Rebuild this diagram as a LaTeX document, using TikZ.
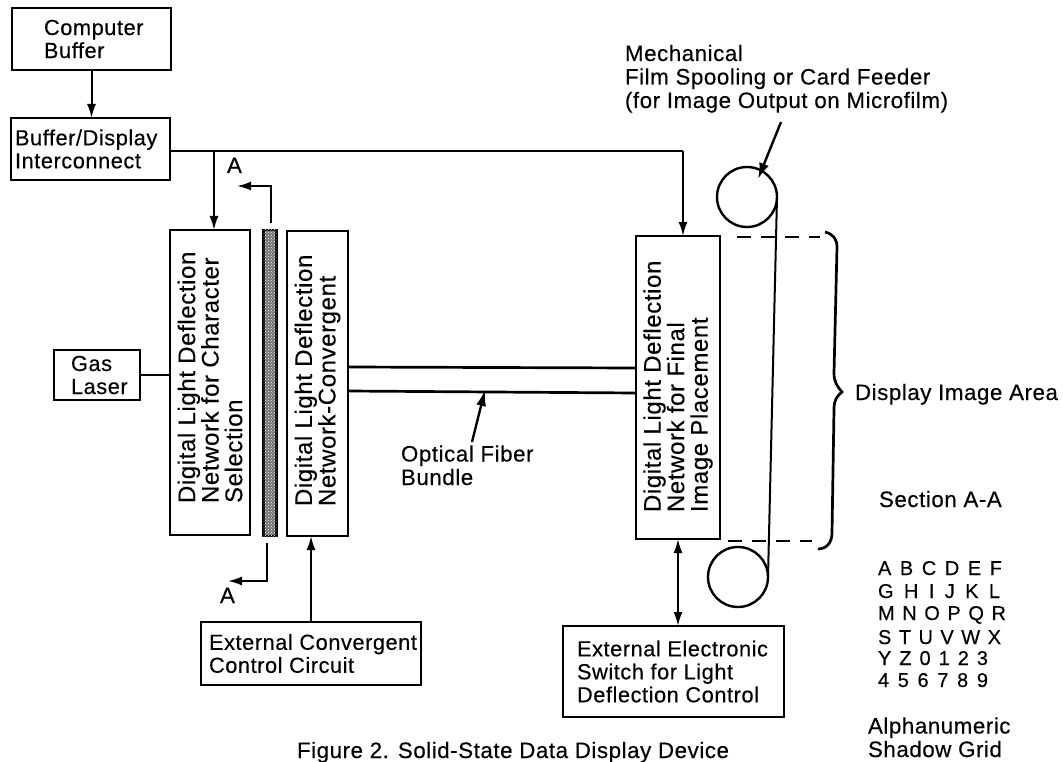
\documentclass[tikz,border=0pt]{standalone}
\usepackage{fontspec}
\setmainfont[LetterSpace=2.5,FakeBold=0.3]{Liberation Sans}
\usetikzlibrary{arrows.meta,patterns}
\newcommand{\tbox}[7]{%
  \pgfmathsetmacro{\tw}{#4-#2-2*#6}%
  \pgfmathsetmacro{\th}{#5-#3}%
  \node[boxn,anchor=north west,inner xsep=#6pt,text width=\tw pt,minimum height=\th pt] (#1) at (#2,#3) {#7};}
\newcommand{\rbox}[7]{%
  \pgfmathsetmacro{\tw}{#5-#3-2*#6}%
  \pgfmathsetmacro{\th}{#4-#2}%
  \pgfmathsetmacro{\cx}{(#2+#4)/2}%
  \pgfmathsetmacro{\cy}{(#3+#5)/2}%
  \node[boxn,rotate=90,anchor=center,inner xsep=#6pt,text width=\tw pt,minimum height=\th pt,font=\fontsize{24}{23.5}\selectfont] (#1) at (\cx,\cy) {#7};}
\tikzset{
  boxn/.style={draw,line width=2.7pt,inner ysep=0pt,outer sep=0pt,align=flush left,font=\fontsize{21.8}{23}\selectfont},
  lab/.style={anchor=base west,inner sep=0pt,outer sep=0pt,align=left,font=\fontsize{22.3}{23.5}\selectfont},
  conn/.style={line width=2pt},
  arr/.style={conn,-{Latex[length=14pt,width=9pt]}},
  darr/.style={conn,{Latex[length=14pt,width=9pt]}-{Latex[length=14pt,width=9pt]}},
  heavy/.style={line width=2.7pt},
  spool/.style={draw,circle,line width=2.4pt,minimum size=60pt,inner sep=0pt,outer sep=0pt},
}
\newcommand{\gridrow}[4]{\node[lab,font=\fontsize{20}{22}\selectfont] (#1) at (878,#2) {\makebox[#3pt][s]{#4}};}
\begin{document}
\begin{tikzpicture}[x=1pt,y=-1pt]
\useasboundingbox (0,0) rectangle (1063,762);
\tbox{cb}{12}{8}{171}{70}{32}{\mbox{Computer}\\\mbox{Buffer}}
\tbox{bd}{11}{118}{170}{180}{4}{\mbox{Buffer/Display}\\\mbox{Interconnect}}
\tbox{gl}{54}{350}{140}{400}{17}{\mbox{Gas}\\\mbox{Laser}}
\rbox{cs}{170}{230}{250}{535}{32}{\mbox{Digital Light Deflection}\\\mbox{Network for Character}\\\mbox{Selection}}
\node[draw,line width=2.2pt,fill=black!55,postaction={pattern=crosshatch dots,pattern color=white},minimum width=13pt,minimum height=306pt,inner sep=0pt,outer sep=0pt] (gr) at (270,383) {};
\rbox{cv}{287}{231}{348}{536}{30}{\mbox{Digital Light Deflection}\\\mbox{Network-Convergent}}
\rbox{fi}{636}{236}{720}{539}{27}{\mbox{Digital Light Deflection}\\\mbox{Network for Final}\\\mbox{Image Placement}}
\tbox{ec}{201}{622}{421}{685}{8}{\mbox{External Convergent}\\\mbox{Control Circuit}}
\tbox{es}{563}{626}{784}{717}{14}{\mbox{External Electronic}\\\mbox{Switch for Light}\\\mbox{Deflection Control}}
% fibre bundle
\coordinate (fa) at (348,367);
\coordinate (fb) at (636,368);
\coordinate (fc) at (348,391);
\coordinate (fd) at (636,393);
\draw[heavy] (fa) -- (fb);
\draw[heavy] (fc) -- (fd);
% connectors
\draw[arr] (cb.south) -- (cb.south |- bd.north);
\coordinate (bus1) at (214,151);
\coordinate (bus2) at (683,151);
\draw[conn] (bd.east |- bus1) -- (bus2);
\draw[arr] (bus1) -- (bus1 |- cs.east);
\draw[arr] (bus2) -- (bus2 |- fi.east);
\draw[conn] (gl.east) -- (gl.east -| cs.north);
\coordinate (a1) at (271,223);
\coordinate (a2) at (271,186);
\coordinate (a3) at (237,186);
\draw[arr] (a1) -- (a2) -- (a3);
\coordinate (b1) at (267,543);
\coordinate (b2) at (267,581);
\coordinate (b3) at (228,581);
\draw[arr] (b1) -- (b2) -- (b3);
\coordinate (ecin) at (311,536);
\draw[arr] (ecin |- ec.north) -- (ecin);
\coordinate (fiin) at (678,539);
\draw[darr] (fiin |- es.north) -- (fiin);
% labels
\node[lab] (la1) at (227,173) {A};
\node[lab] (la2) at (220,603) {A};
\node[lab] (mech) at (625,108) {Mechanical\\Film Spooling or Card Feeder\\(for Image Output on Microfilm)};
\node[lab] (ofb) at (401,485) {Optical Fiber\\Bundle};
\node[lab] (dia) at (855,400) {Display Image Area};
\node[lab] (sec) at (879,507) {Section A-A};
\gridrow{r1}{575}{124}{A B C D E F}
\gridrow{r2}{598}{122}{G H I J K L}
\gridrow{r3}{620}{128}{M N O P Q R}
\gridrow{r4}{644}{123}{S T U V W X}
\gridrow{r5}{665}{110}{Y Z 0 1 2 3}
\gridrow{r6}{687}{110}{4 5 6 7 8 9}
\node[lab] (ag) at (868,757) {Alphanumeric\\Shadow Grid};
\node[lab] (fig) at (297,758) {Figure 2. Solid-State Data Display Device};
% spools
\node[spool] (sp1) at (747,197) {};
\node[spool] (sp2) at (738,577) {};
\draw[conn] (sp1.east) -- (sp2.east);
\coordinate (mt) at (781,122);
\coordinate (mh) at (758,179);
\draw[line width=2.4pt,-{Latex[length=16pt,width=10pt]}] (mt) -- (mh);
\coordinate (ft) at (472,442);
\coordinate (fh) at (485,390);
\draw[line width=2.4pt,-{Latex[length=16pt,width=10pt]}] (ft) -- (fh);
% display area brace
\draw[heavy,dash pattern=on 14pt off 10pt] (737,237) -- (820,237);
\draw[heavy,dash pattern=on 14pt off 10pt] (728,541) -- (812,541);
\draw[heavy] (825,232) .. controls (833,234) and (837,239) .. (837,247) -- (834,373) .. controls (834,382) and (837,386) .. (842,392) .. controls (837,396) and (834,400) .. (834,409) -- (832,533) .. controls (832,543) and (826,549) .. (818,549);
\end{tikzpicture}
\end{document}
